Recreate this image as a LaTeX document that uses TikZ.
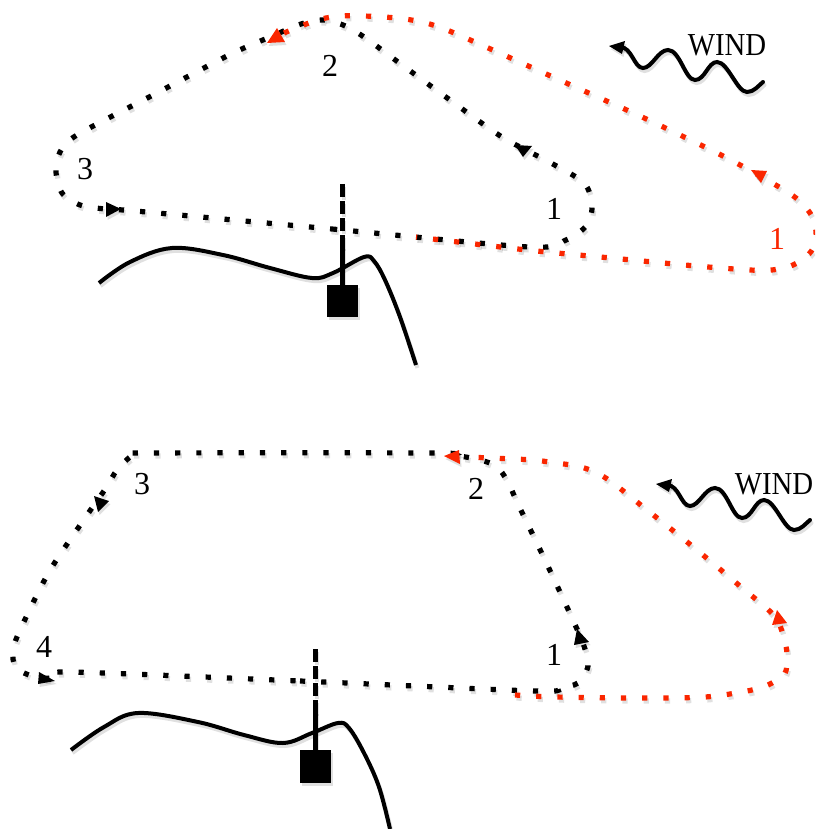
\documentclass[tikz,border=0pt]{standalone}
\usepackage{fontspec}
\setmainfont{Liberation Serif}
\definecolor{kred}{RGB}{250,38,0}
\colorlet{inkK}{black}
\colorlet{inkR}{kred}
\tikzset{
  kdots/.style={line width=5.2pt, dash pattern=on 5.2pt off 16pt},
  ground/.style={line width=4pt, line join=round},
  mast/.style={line width=4.5pt},
  lbl/.style={inner sep=0pt, font=\fontsize{32}{36}\selectfont},
  windline/.style={line width=4pt, line cap=round},
}
\newcommand\kiteScene{%
  % ---------- top diagram ----------
  \draw[kdots, inkK] plot[smooth cycle, tension=0.5] coordinates {
    (135,211) (332,229) (529,247) (566,240) (587,225) (592,205) (584,183)
    (551,163) (502,137) (450,100) (398,62) (364,37) (343,25) (322,20)
    (301,24) (270,37) (229,55) (153,95) (77,135) (60,152) (56,172)
    (62,193) (80,205) (105,209)};
  \draw[kdots, inkR] plot[smooth, tension=0.5] coordinates {
    (284,33) (301,26) (321,19) (342,16) (363,16) (384,17) (405,19) (426,23)
    (447,30) (486,47) (564,82) (642,117) (717,153) (760,176) (796,198)
    (813,218) (816,240) (809,254) (793,265) (772,270) (750,270) (696,266)
    (611,258) (527,250) (416,237)};
  \fill[inkR] (267,43) -- (277,28) -- (285,42) -- cycle;
  \fill[inkK] (515,145) -- (532,146) -- (523,157) -- cycle;
  \fill[inkR] (751,170) -- (767,171) -- (761,183) -- cycle;
  \fill[inkK] (106,202) -- (121,209) -- (106,217) -- cycle;
  \draw[ground, inkK] plot[smooth, tension=0.6] coordinates {
    (99,283) (130,262) (172,248) (223,255) (270,268) (312,278) (333,273)
    (364,257) (374,261) (385,280) (400,317) (416,365)};
  \draw[mast, inkK, dash pattern=on 13pt off 4pt] (342.5,184) -- (342.5,248);
  \draw[mast, inkK] (342.5,246) -- (342.5,286);
  \fill[inkK] (327,285) rectangle (358,317);
  % ---------- bottom diagram ----------
  \draw[kdots, inkK] plot[smooth cycle, tension=0.5] coordinates {
    (68,672) (300,681) (535,691) (559,688) (578,683) (588,666) (584,646)
    (572,618) (545,560) (517,502) (508,482) (496,466) (476,459) (452,455)
    (431,453) (150,453) (133,455) (117,470) (106,488) (85,518) (49,572)
    (21,628) (13,650) (16,668) (35,677) (50,678)};
  \draw[kdots, inkR] plot[smooth, tension=0.5] coordinates {
    (515,695) (555,697) (641,698) (705,697) (747,691) (768,685) (785,673)
    (787,653) (783,635) (777,619) (763,605) (747,592) (715,565) (681,537)
    (647,510) (613,483) (595,472) (577,466) (556,463) (534,460) (513,459)
    (491,458) (466,457)};
  \fill[inkR] (444,456) -- (459,450) -- (460,464) -- cycle;
  \fill[inkK] (577,629) -- (574,645) -- (589,642) -- cycle;
  \fill[inkR] (777,610) -- (772,625) -- (787,623) -- cycle;
  \fill[inkK] (94,496) -- (109,501) -- (98,512) -- cycle;
  \fill[inkK] (39,672) -- (55,681) -- (38,684) -- cycle;
  \draw[ground, inkK] plot[smooth, tension=0.6] coordinates {
    (71,750) (104,727) (138,713) (198,722) (244,735) (283,743) (312,733)
    (338,723) (349,728) (364,753) (379,787) (390,829)};
  \draw[mast, inkK, dash pattern=on 13pt off 4pt] (315.5,649) -- (315.5,713);
  \draw[mast, inkK] (315.5,711) -- (315.5,751);
  \fill[inkK] (300,750) rectangle (331,783);
  % ---------- wind signs ----------
  \foreach \dy/\dx in {0/0, 438/47}{
    \begin{scope}[shift={(\dx,\dy)}]
      \draw[windline, inkK] (620,47) .. controls (632,47) and (634,68) .. (643,68)
        .. controls (652,68) and (658,50) .. (668,50)
        .. controls (680,50) and (685,80) .. (695,80)
        .. controls (705,80) and (708,62) .. (717,62)
        .. controls (728,62) and (737,92) .. (747,92)
        .. controls (754,92) and (758,86) .. (763,82);
      \fill[inkK] (609,46) -- (625,41) -- (622,54) -- cycle;
    \end{scope}
  }%
}
\begin{document}
\begin{tikzpicture}[x=1pt,y=-1pt]
  \useasboundingbox (0,0) rectangle (815,829);
  \clip (0,0) rectangle (815,829);
  \begin{scope}[shift={(1.5,3)}, opacity=0.12]
    \colorlet{inkK}{black}\colorlet{inkR}{black}
    \kiteScene
  \end{scope}
  \kiteScene
  % labels
  \node[lbl] (t2) at (330,66) {2};
  \node[lbl] (t1) at (554,209) {1};
  \node[lbl, text=kred] (t1r) at (777,239) {1};
  \node[lbl] (t3) at (85,169) {3};
  \node[lbl] (tw) at (727,45) {\scalebox{0.9}[1]{WIND}};
  \node[lbl] (b3) at (142,484) {3};
  \node[lbl] (b2) at (476,489) {2};
  \node[lbl] (b4) at (44,647) {4};
  \node[lbl] (b1) at (554,655) {1};
  \node[lbl] (bw) at (774,484) {\scalebox{0.9}[1]{WIND}};
\end{tikzpicture}
\end{document}
